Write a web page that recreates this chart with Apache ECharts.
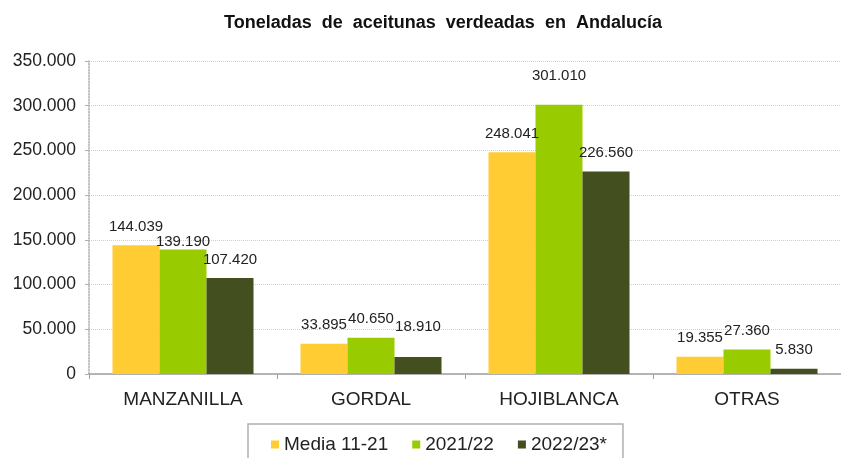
<!DOCTYPE html>
<html>
<head>
<meta charset="utf-8">
<script src="https://cdn.jsdelivr.net/npm/echarts@6/dist/echarts.min.js"></script>
<style>
  html, body { margin: 0; padding: 0; background: #fff; }
  #chart { width: 841px; height: 458px; }
</style>
</head>
<body>
<div id="chart"></div>
<script>
const categories = ['MANZANILLA', 'GORDAL', 'HOJIBLANCA', 'OTRAS']
const seriesNames = ['Media 11-21', '2021/22', '2022/23*']
const media1121 = [144039, 33895, 248041, 19355]
const campaign2122 = [139190, 40650, 301010, 27360]
const campaign2223 = [107420, 18910, 226560, 5830]
const colors = ['#ffcc33', '#99cc00', '#434f1f']

// ajuste vertical de algunas etiquetas (como en el original)
const labelShift = { '1-0': 11, '2-1': -12, '1-2': -10 }

// numero con punto de miles
function fmt(v) {
  return String(v).replace(/\B(?=(\d{3})+(?!\d))/g, '.')
}

const chart = echarts.init(document.getElementById('chart'))

const values = [media1121, campaign2122, campaign2223]

chart.setOption({
  animation: false,
  title: {
    text: 'Toneladas  de  aceitunas  verdeadas  en  Andalucía',
    left: 438,
    textAlign: 'center',
    top: 9,
    textStyle: { fontFamily: 'Liberation Sans', fontSize: 18, fontWeight: 'bold', color: '#111' }
  },
  grid: { left: 89, top: 61, width: 760, height: 313 },
  legend: {
    left: 248,
    top: 424,
    padding: [11, 16, 12, 23],
    borderColor: '#b0b0b0',
    borderWidth: 1.5,
    itemWidth: 8,
    itemHeight: 8,
    itemGap: 24,
    icon: 'rect',
    textStyle: { fontFamily: 'Liberation Sans', fontSize: 19, color: '#222' },
    data: seriesNames
  },
  xAxis: {
    type: 'category',
    data: categories,
    axisLine: { lineStyle: { color: '#a0a0a0', width: 1.5 } },
    axisTick: { show: true, length: 5, lineStyle: { color: '#a0a0a0' } },
    axisLabel: { fontFamily: 'Liberation Sans', fontSize: 19, color: '#222', margin: 16 }
  },
  yAxis: {
    type: 'value',
    min: 0,
    max: 350000,
    interval: 50000,
    axisLine: { show: true, lineStyle: { color: '#b0b0b0', type: 'dotted', width: 1.5 } },
    axisTick: { show: true, length: 4, lineStyle: { color: '#b0b0b0' } },
    axisLabel: { fontFamily: 'Liberation Sans', fontSize: 17.5, color: '#222', margin: 13, formatter: fmt },
    splitLine: { lineStyle: { color: '#c5cfd6', type: 'dotted' } }
  },
  series: seriesNames.map((name, i) => ({
    name: name,
    type: 'bar',
    barGap: '0%',
    barCategoryGap: '25%',
    itemStyle: { color: colors[i] },
    label: {
      show: true,
      position: 'top',
      distance: 11,
      fontFamily: 'Liberation Sans',
      fontSize: 15,
      color: '#222',
      formatter: p => fmt(p.value)
    },
    data: values[i].map((v, j) => {
      const s = labelShift[i + '-' + j]
      return s ? { value: v, label: { offset: [0, s] } } : v
    })
  }))
})
</script>
</body>
</html>
